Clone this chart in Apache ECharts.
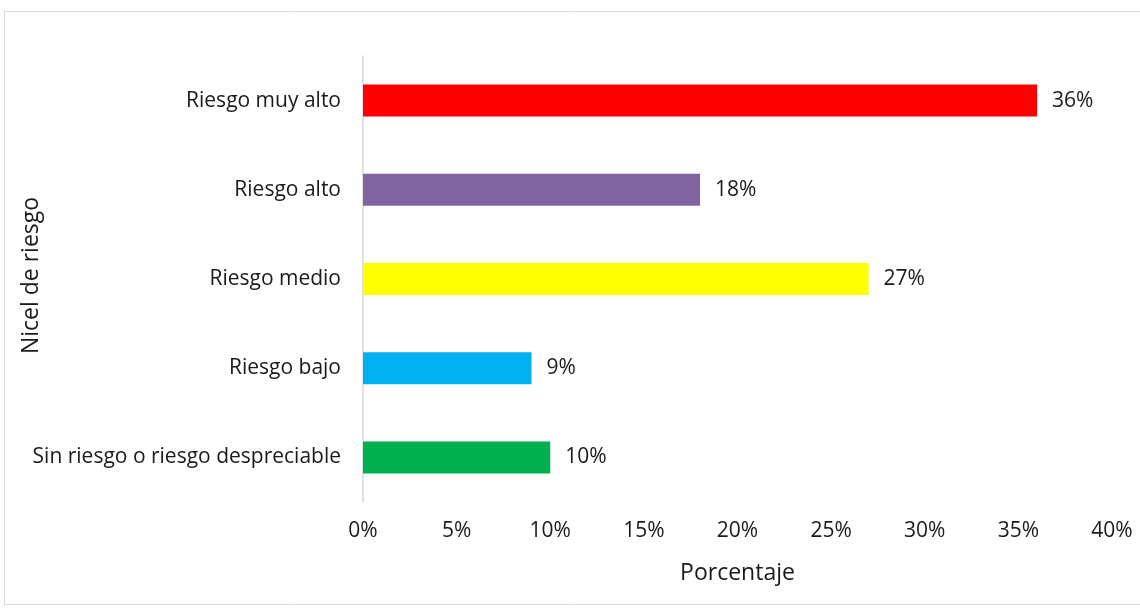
<!DOCTYPE html>
<html>
<head>
<meta charset="utf-8">
<script src="https://cdn.jsdelivr.net/npm/echarts@6/dist/echarts.min.js"></script>
<style>
  html, body { margin: 0; padding: 0; background: #fff; }
  #chart { width: 1140px; height: 608px; }
</style>
</head>
<body>
<div id="chart"></div>
<script>
// Risk levels, listed from bottom to top of the chart
const categories = [
  'Sin riesgo o riesgo despreciable',
  'Riesgo bajo',
  'Riesgo medio',
  'Riesgo alto',
  'Riesgo muy alto'
];
const values = [10, 9, 27, 18, 36];
const barColors = ['#00B050', '#00B0F0', '#FFFF00', '#8064A2', '#FF0000'];

const FONT = '"Open Sans", "Liberation Sans", sans-serif';
const TXT = '#1a1a1a';

const chart = echarts.init(document.getElementById('chart'), null, { renderer: 'canvas' });

chart.setOption({
  animation: false,
  backgroundColor: '#fff',
  graphic: [{
    type: 'rect',
    shape: { x: 4.5, y: 11.5, width: 1140, height: 593 },
    style: { fill: 'none', stroke: '#d9d9d9', lineWidth: 1 },
    silent: true
  }],
  grid: {
    left: 363, right: 28, top: 56, bottom: 106,
    containLabel: false,
    outerBoundsMode: 'none'
  },
  xAxis: {
    type: 'value',
    min: 0,
    max: 40,
    interval: 5,
    axisLine: { show: false },
    axisTick: { show: false },
    splitLine: { show: false },
    axisLabel: {
      formatter: '{value}%',
      color: TXT,
      fontFamily: FONT,
      fontSize: 21,
      margin: 19
    },
    name: 'Porcentaje',
    nameLocation: 'middle',
    nameGap: 60,
    nameMoveOverlap: false,
    nameTextStyle: { color: TXT, fontFamily: FONT, fontSize: 23 }
  },
  yAxis: {
    type: 'category',
    data: categories,
    axisLine: { show: true, lineStyle: { color: '#d9d9d9', width: 1.5 } },
    axisTick: { show: false },
    axisLabel: {
      color: TXT,
      fontFamily: FONT,
      fontSize: 21,
      margin: 22
    },
    name: 'Nicel de riesgo',
    nameLocation: 'middle',
    nameRotate: 90,
    nameGap: 320,
    nameMoveOverlap: false,
    nameTextStyle: { color: TXT, fontFamily: FONT, fontSize: 23, padding: [0, 0, 0, 7] }
  },
  series: [{
    type: 'bar',
    data: values.map((v, i) => ({ value: v, itemStyle: { color: barColors[i] } })),
    barWidth: 32,
    label: {
      show: true,
      position: 'right',
      distance: 15,
      formatter: '{c}%',
      color: TXT,
      fontFamily: FONT,
      fontSize: 21
    }
  }]
});
</script>
</body>
</html>
